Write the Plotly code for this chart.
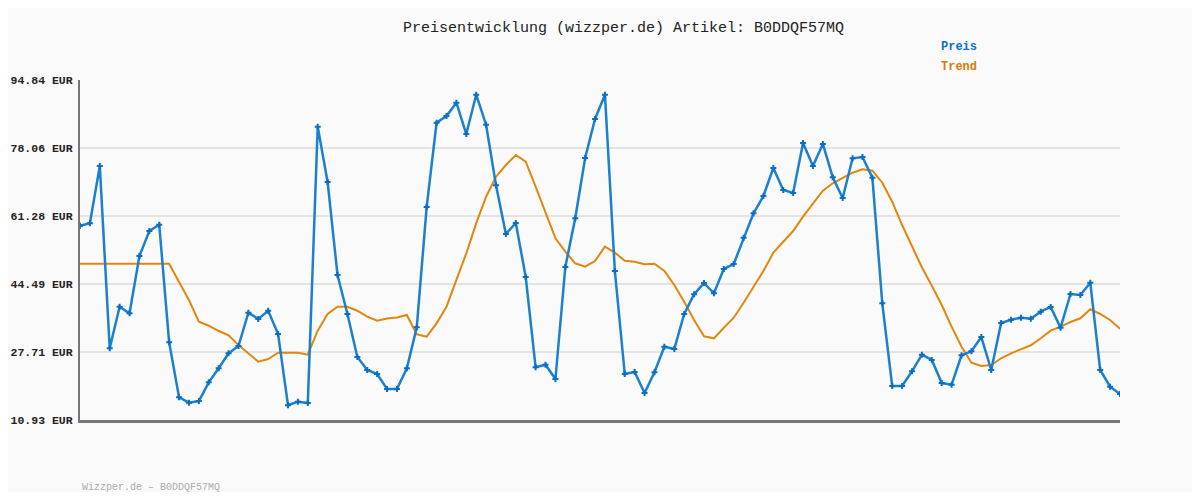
import plotly.graph_objects as go

preis = [58.88, 59.47, 73.62, 28.63, 38.89, 37.26, 51.40, 57.57, 59.13, 30.11,
         16.53, 15.20, 15.62, 20.23, 23.69, 27.39, 29.19, 37.41, 35.86, 37.90,
         32.15, 14.56, 15.45, 15.13, 83.31, 69.67, 46.72, 37.09, 26.48, 23.27,
         22.28, 18.58, 18.58, 23.69, 33.81, 63.50, 84.30, 85.96, 89.24, 81.51,
         91.21, 83.81, 68.85, 56.83, 59.55, 46.22, 23.94, 24.58, 21.05, 48.69,
         60.71, 75.59, 85.22, 91.21, 47.70, 22.28, 22.78, 17.59, 22.70, 29.02,
         28.45, 37.09, 41.95, 44.74, 42.20, 48.20, 49.43, 55.92, 61.94, 66.21,
         73.12, 67.69, 66.95, 79.29, 73.62, 79.05, 70.83, 65.72, 75.52, 75.84,
         70.73, 39.73, 19.32, 19.32, 22.95, 27.05, 25.74, 20.06, 19.64, 26.90,
         27.88, 31.41, 23.27, 34.87, 35.68, 36.18, 35.93, 37.66, 38.82, 33.71,
         42.03, 41.78, 44.81, 23.27, 19.15, 17.35]

trend = [49.50, 49.50, 49.50, 49.50, 49.50, 49.50, 49.50, 49.50, 49.50, 49.50,
         44.99, 40.55, 35.19, 34.20, 32.89, 31.83, 29.44, 27.47, 25.32, 25.98,
         27.54, 27.54, 27.54, 27.05, 32.97, 37.09, 38.89, 38.89, 37.90, 36.42,
         35.44, 35.98, 36.23, 36.84, 32.08, 31.49, 34.79, 38.89, 45.48, 52.07,
         59.47, 66.04, 70.97, 73.86, 76.33, 74.68, 68.51, 62.34, 55.77, 52.47,
         49.60, 48.76, 50.17, 53.70, 52.22, 50.24, 50.00, 49.36, 49.50, 47.70,
         44.25, 40.13, 35.61, 31.59, 31.09, 33.71, 36.18, 39.88, 43.83, 47.70,
         52.22, 54.93, 57.57, 61.10, 64.41, 67.52, 69.35, 70.58, 71.96, 72.80,
         72.46, 69.49, 64.81, 59.05, 53.70, 48.62, 44.07, 39.31, 33.96, 29.02,
         25.07, 24.26, 24.50, 26.16, 27.39, 28.38, 29.37, 31.09, 32.97, 33.96,
         35.12, 36.03, 38.25, 37.09, 35.61, 33.46]

y_ticks = [10.93, 27.71, 44.49, 61.28, 78.06, 94.84]
y_tick_labels = ["10.93 EUR", "27.71 EUR", "44.49 EUR", "61.28 EUR", "78.06 EUR", "94.84 EUR"]

title_text = "Preisentwicklung (wizzper.de) Artikel: B0DDQF57MQ"
footer_text = "Wizzper.de – B0DDQF57MQ"

x = list(range(len(preis)))

BLUE = "#1b80cf"
ORANGE = "#e3860f"
MONO = "Liberation Mono, DejaVu Sans Mono, monospace"

# figure is placed at (8, 8) by the page's default body margin
W, H = 1184, 484
L, R, T, B = 72, 72, 72, 72
PW, PH = W - L - R, H - T - B


def px(xp):
    return (xp - 8 - L) / PW


def py(yp):
    return (H - B - (yp - 8)) / PH


fig = go.Figure()
fig.add_trace(go.Scatter(
    x=x, y=trend, mode="lines", name="Trend",
    line=dict(color=ORANGE, width=2), hoverinfo="skip"))
fig.add_trace(go.Scatter(
    x=x, y=preis, mode="lines+markers", name="Preis",
    line=dict(color=BLUE, width=2.5),
    marker=dict(symbol="cross", size=5, color="#0a6fc2", line=dict(width=0))))

fig.update_layout(
    width=W, height=H,
    paper_bgcolor="#fafafa", plot_bgcolor="#fafafa",
    margin=dict(l=L, r=R, t=T, b=B, autoexpand=False),
    showlegend=False,
    font=dict(family=MONO, color="#222"),
    xaxis=dict(range=[0, len(preis) - 1], showgrid=False, zeroline=False,
               showticklabels=False, ticks="", showline=True,
               linecolor="#777", linewidth=3, automargin=False),
    yaxis=dict(range=[y_ticks[0], y_ticks[-1]], tickvals=y_ticks, ticktext=y_tick_labels,
               showgrid=True, gridcolor="#e4e4e4", gridwidth=2, zeroline=False,
               showline=True, linecolor="#777", linewidth=2, automargin=False,
               ticks="outside", ticklen=3, tickcolor="rgba(0,0,0,0)",
               tickfont=dict(family=MONO, size=11.5, color="#222", weight="bold")),
    annotations=[
        dict(text=title_text, x=px(623), y=py(28), xref="paper", yref="paper",
             xanchor="center", yanchor="middle", showarrow=False,
             font=dict(family=MONO, size=15, color="#222")),
        dict(text="<b>Preis</b>", x=px(939), y=py(47), xref="paper", yref="paper",
             xanchor="left", yanchor="middle", showarrow=False,
             font=dict(family=MONO, size=12, color="#0a72c6")),
        dict(text="<b>Trend</b>", x=px(939), y=py(67), xref="paper", yref="paper",
             xanchor="left", yanchor="middle", showarrow=False,
             font=dict(family=MONO, size=12, color="#d97a08")),
        dict(text=footer_text, x=px(80), y=py(487), xref="paper", yref="paper",
             xanchor="left", yanchor="middle", showarrow=False,
             font=dict(family=MONO, size=10, color="#aaaaaa")),
    ],
)

fig.write_html("out.html")
